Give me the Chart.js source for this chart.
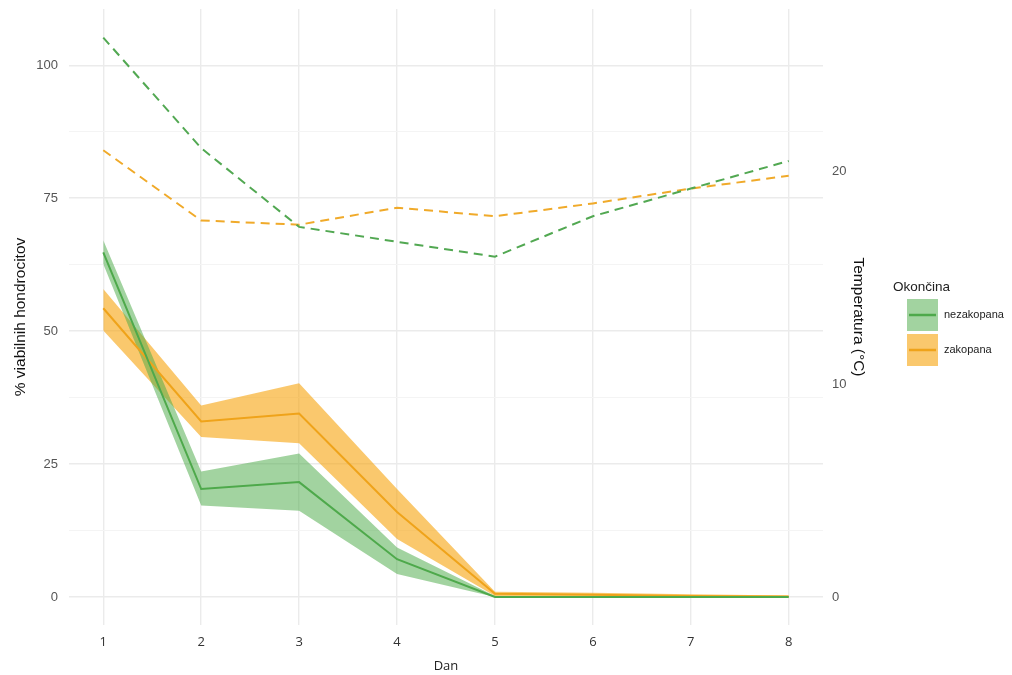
<!DOCTYPE html>
<html>
<head>
<meta charset="utf-8">
<script src="https://cdn.jsdelivr.net/npm/chart.js@4.4.1/dist/chart.umd.min.js"></script>
<style>
  html, body { margin: 0; padding: 0; background: #fff; }
  #wrap { width: 1012px; height: 675px; position: relative; }
</style>
</head>
<body>
<div id="wrap"><canvas id="c"></canvas></div>
<script>
/* Viabilnost hondrocitov po dnevih + temperatura (desna os). */
const dni = [1, 2, 3, 4, 5, 6, 7, 8];

// % viabilnih hondrocitov (povprecje in pas)
const nezakopana = [64.8, 20.3, 21.6, 7.1, 0.0, 0.0, 0.0, 0.0];
const nezakopanaHi = [67.1, 23.6, 27.0, 9.3, 0.2, 0.1, 0.1, 0.1];
const nezakopanaLo = [62.6, 17.2, 16.2, 4.3, 0.0, 0.0, 0.0, 0.0];
const zakopana = [54.3, 33.0, 34.5, 16.0, 0.6, 0.4, 0.2, 0.1];
const zakopanaHi = [57.9, 36.0, 40.2, 20.3, 1.0, 0.8, 0.5, 0.3];
const zakopanaLo = [50.1, 30.1, 28.9, 10.9, 0.2, 0.1, 0.0, 0.0];

// temperatura (°C)
const tempNezakopana = [26.3, 21.1, 17.4, 16.7, 16.0, 17.9, 19.2, 20.5];
const tempZakopana = [21.0, 17.7, 17.5, 18.3, 17.9, 18.5, 19.2, 19.8];

const yTicks = [0, 25, 50, 75, 100];
const y2Ticks = [0, 10, 20];

const GREEN = '#4ea94b', GREEN_BAND = 'rgba(76,170,72,0.52)';
const ORANGE = '#efa31a', ORANGE_BAND = 'rgba(247,166,20,0.62)';
const GRID = '#ebebeb', GRID_MINOR = '#f4f4f4';

const pts = (ys) => dni.map((d, i) => ({ x: d, y: ys[i] }));

const band = (label, data, color, fill) => ({
  label, data: pts(data), borderWidth: 0, borderColor: 'transparent', backgroundColor: color,
  pointRadius: 0, fill, order: 3, yAxisID: 'y',
});
const line = (label, data, color, opts = {}) => ({
  label, data: pts(data), borderColor: color, backgroundColor: color, borderWidth: opts.bw || 2,
  borderDash: opts.dash, pointRadius: 0, fill: false, order: opts.order || 2,
  yAxisID: opts.axis || 'y', legendFill: opts.legendFill,
});
// brez dodatnega roba zaradi polovice oznak na y oseh
const noPad = (s) => { s.paddingTop = 0; s.paddingBottom = 0; };

// legenda ob desnem robu (naslov + kvadrat s pasom in crto)
const okLegend = {
  id: 'okLegend',
  afterDraw(chart) {
    const ctx = chart.ctx;
    ctx.save();
    ctx.fillStyle = '#222';
    ctx.font = '13.5px "Liberation Sans", Arial, sans-serif';
    ctx.textBaseline = 'middle';
    ctx.textAlign = 'left';
    ctx.fillText('Okončina', 893, 287);
    const keys = chart.data.datasets.filter((d) => d.legendFill);
    keys.forEach((d, i) => {
      const top = 299 + i * 35;
      ctx.fillStyle = d.legendFill;
      ctx.fillRect(907, top, 31, 32);
      ctx.strokeStyle = d.borderColor;
      ctx.lineWidth = 2.5;
      ctx.beginPath();
      ctx.moveTo(909, top + 16);
      ctx.lineTo(936, top + 16);
      ctx.stroke();
      ctx.fillStyle = '#222';
      ctx.font = '11px "Liberation Sans", Arial, sans-serif';
      ctx.fillText(d.label, 944, top + 16);
    });
    ctx.restore();
  },
};

new Chart(document.getElementById('c'), {
  type: 'line',
  data: {
    datasets: [
      band('nezakopana spodaj', nezakopanaLo, GREEN_BAND, false),
      band('nezakopana zgoraj', nezakopanaHi, GREEN_BAND, '-1'),
      band('zakopana spodaj', zakopanaLo, ORANGE_BAND, false),
      band('zakopana zgoraj', zakopanaHi, ORANGE_BAND, '-1'),
      line('nezakopana', nezakopana, GREEN, { legendFill: GREEN_BAND }),
      line('zakopana', zakopana, ORANGE, { legendFill: ORANGE_BAND }),
      line('temperatura nezakopana', tempNezakopana, '#52a852', { axis: 'y2', dash: [9, 6], order: 1 }),
      line('temperatura zakopana', tempZakopana, '#f0aa2a', { axis: 'y2', dash: [9, 6], order: 1 }),
    ],
  },
  options: {
    responsive: true, maintainAspectRatio: false, animation: false,
    layout: { padding: { top: 9, right: 144, bottom: 0, left: 0 } },
    plugins: { legend: { display: false }, tooltip: { enabled: false } },
    scales: {
      x: {
        type: 'linear', min: 0.65, max: 8.35,
        afterFit: (s) => { s.height = 50; s.paddingLeft = 0; s.paddingRight = 0; },
        grid: { color: GRID, lineWidth: 1.4, drawTicks: false }, border: { display: false },
        ticks: {
          stepSize: 1, includeBounds: false, padding: 9, color: '#333',
          font: { family: '"Open Sans", "Noto Sans", sans-serif', size: 13 },
          callback: (v) => (dni.includes(v) ? String(v) : ''),
        },
        title: { display: true, text: 'Dan', color: '#222', padding: { top: 0, bottom: 1 },
          font: { family: '"Open Sans", "Noto Sans", sans-serif', size: 13 } },
      },
      y: {
        position: 'left', min: -5.27, max: 110.57,
        afterFit: (s) => { s.width = 69; noPad(s); },
        grid: { color: (c) => (yTicks.includes(c.tick.value) ? GRID : GRID_MINOR), lineWidth: (c) => (yTicks.includes(c.tick.value) ? 1.4 : 1), drawTicks: false },
        border: { display: false },
        ticks: {
          stepSize: 12.5, includeBounds: false, padding: 11, color: '#555',
          font: { family: '"Liberation Sans", Arial, sans-serif', size: 13 },
          callback: (v) => (yTicks.includes(v) ? String(v) : ''),
        },
        title: { display: true, text: '% viabilnih hondrocitov', color: '#111', padding: { top: 11, bottom: 0 },
          font: { family: '"Liberation Sans", Arial, sans-serif', size: 15.5 } },
      },
      y2: {
        position: 'right', min: -1.3175, max: 27.6425,
        afterFit: (s) => { s.width = 45; noPad(s); },
        grid: { display: false, drawTicks: false }, border: { display: false },
        ticks: {
          stepSize: 10, includeBounds: false, padding: 9, color: '#555',
          font: { family: '"Liberation Sans", Arial, sans-serif', size: 13 },
          callback: (v) => (y2Ticks.includes(v) ? String(v) : ''),
        },
        title: { display: true, text: 'Temperatura (°C)', color: '#111', padding: { top: 0, bottom: 0 },
          font: { family: '"Liberation Sans", Arial, sans-serif', size: 15.5 } },
      },
    },
  },
  plugins: [okLegend],
});
</script>
</body>
</html>
